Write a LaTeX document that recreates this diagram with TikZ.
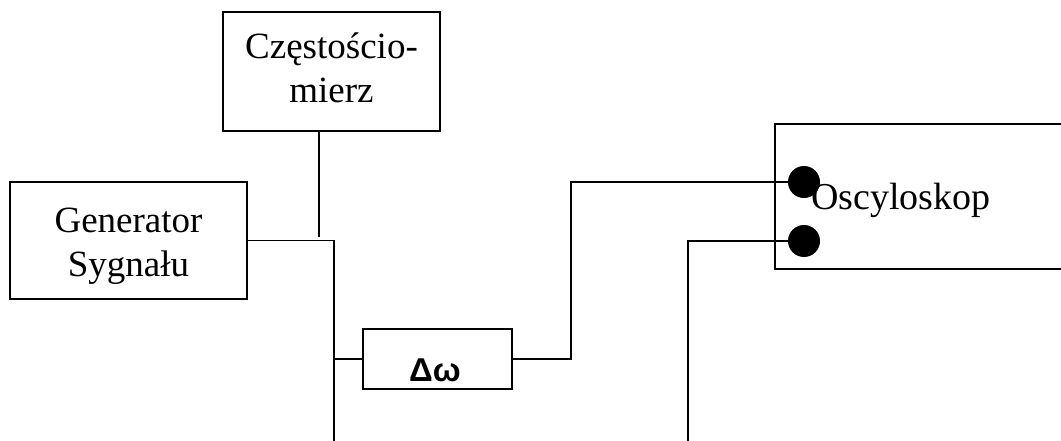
\documentclass[tikz,border=0pt]{standalone}
\usepackage{fontspec}
\setmainfont{Liberation Serif}
\newfontfamily\symfont{Liberation Sans}
\begin{document}
\begin{tikzpicture}[x=1pt,y=-1pt,
  box/.style={draw, line width=1.4pt, rectangle, inner sep=0pt},
  txt/.style={inner sep=0pt, align=center, font=\fontsize{37}{44}\selectfont},
  wire/.style={line width=1.4pt},
  dot/.style={circle, fill=black, inner sep=0pt, minimum size=32pt}]
\useasboundingbox (0,0) rectangle (1061,441);
\clip (0,0) rectangle (1061,441);
\fill[white] (0,0) rectangle (1061,441);
% boxes
\node[box, line width=2pt, minimum width=217pt, minimum height=119pt] (cz) at (331.5,71.5) {};
\node[txt] (czt) at (331.5,67.5) {Częstościo-\\mierz};
\node[box, minimum width=237pt, minimum height=117pt] (gen) at (128.5,240.5) {};
\node[txt] (gent) at (128.5,246.5) {Generator\\Sygnału};
\node[box, minimum width=149pt, minimum height=60pt] (dw) at (437.5,359) {};
\node[font=\symfont\bfseries\fontsize{33}{40}\selectfont, anchor=base, inner sep=0pt] (dwt) at (435,381) {Δω};
\node[box, minimum width=320pt, minimum height=145pt] (osc) at (935,196.5) {};
\node[anchor=base west, inner sep=0pt, font=\fontsize{38}{44}\selectfont] (osct) at (811,210) {Oscyloskop};
\node[dot] (c1) at (804,182) {};
\node[dot] (c2) at (804,241) {};
% coordinates
\coordinate (ce) at (319,237);
\coordinate (b1) at (334,441);
\coordinate (t) at (334,359);
\coordinate (k1) at (571,182);
\coordinate (b2) at (688,441);
% wires
\draw[wire, line width=2pt] (ce |- cz.south) -- (ce);
\draw[wire] (gen.east) -| (b1);
\draw[wire] (t) -- (dw.west);
\draw[wire] (dw.east) -| (k1) -- (c1.west);
\draw[wire] (c2.west) -| (b2);
\end{tikzpicture}
\end{document}
